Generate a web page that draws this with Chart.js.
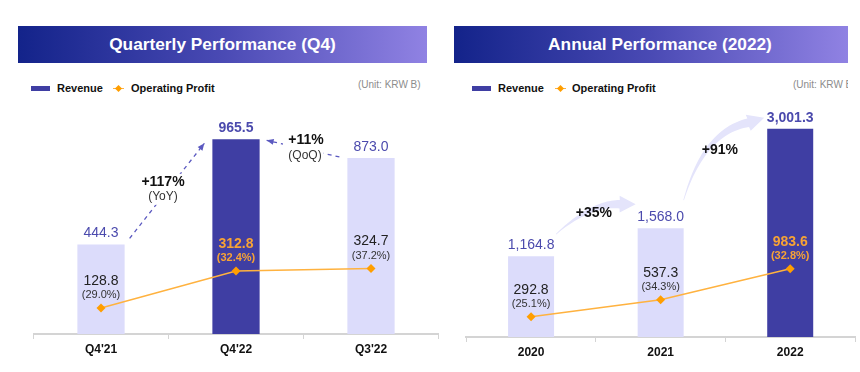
<!DOCTYPE html>
<html>
<head>
<meta charset="utf-8">
<script src="https://cdn.jsdelivr.net/npm/chart.js@4/dist/chart.umd.min.js"></script>
<style>
  body { margin: 0; width: 860px; height: 372px; position: relative; overflow: hidden; background: #fff;
         font-family: "Liberation Sans", Arial, sans-serif; }
  .title { position: absolute; top: 26px; height: 37px; color: #fff; font-weight: bold; font-size: 17.3px;
           display: flex; align-items: center; justify-content: center; box-sizing: border-box;
           background: linear-gradient(90deg, #13238a 0%, #4a4ab4 50%, #9082e3 100%); }
  .lg { position: absolute; top: 81px; height: 14px; line-height: 14px; font-size: 11px; font-weight: bold; color: #111; white-space: nowrap; }
  .sw { position: absolute; top: 86px; width: 19px; height: 5px; background: #3f3ea3; }
  .ln { position: absolute; top: 88px; width: 11px; height: 0; border-top: 1.5px solid #ffb23f; }
  .dm { position: absolute; top: 85.5px; width: 5px; height: 5px; background: #ff9e00; transform: rotate(45deg); }
  .unit { position: absolute; top: 79px; font-size: 10px; color: #8c8c8c; white-space: nowrap; overflow: hidden; }
  canvas { position: absolute; top: 100px; }
</style>
</head>
<body>
<div class="title" style="left:18px;width:409px;">Quarterly Performance (Q4)</div>
<div class="title" style="left:454px;width:394px;padding-left:18px;">Annual Performance (2022)</div>

<div class="sw" style="left:31px;"></div><div class="lg" style="left:57px;">Revenue</div>
<div class="ln" style="left:113px;"></div><div class="dm" style="left:116px;"></div>
<div class="lg" style="left:131px;">Operating Profit</div>
<div class="unit" style="left:358px;">(Unit: KRW B)</div>

<div class="sw" style="left:472px;"></div><div class="lg" style="left:498px;">Revenue</div>
<div class="ln" style="left:555px;"></div><div class="dm" style="left:558px;"></div>
<div class="lg" style="left:572px;">Operating Profit</div>
<div class="unit" style="left:793px;width:55px;">(Unit: KRW B)</div>

<canvas id="quarterChart" width="445" height="272" style="left:0px;"></canvas>
<canvas id="annualChart" width="414" height="272" style="left:446px;"></canvas>

<script>
// quarterly data
const qCategories = ["Q4'21", "Q4'22", "Q3'22"];
const qRevenue = [444.3, 965.5, 873.0];
const qProfit = [128.8, 312.8, 324.7];
const qMargin = ["29.0%", "32.4%", "37.2%"];
const qGrowth = [["+117%", "(YoY)"], ["+11%", "(QoQ)"]];

// annual data
const yCategories = ["2020", "2021", "2022"];
const yRevenue = [1164.8, 1568.0, 3001.3];
const yProfit = [292.8, 537.3, 983.6];
const yMargin = ["25.1%", "34.3%", "32.8%"];
const yGrowth = ["+35%", "+91%"];

const FONT = '"Liberation Sans", Arial, sans-serif';
const LIGHT = "#dcdcfb";
const DARK = "#3f3ea3";
const ORANGE = "#f7a335";

const fmt = (v) => v.toLocaleString("en-US", { minimumFractionDigits: 1, maximumFractionDigits: 1 });

// white box behind text, then text
function textBox(ctx, str, x, y, font, color) {
  ctx.font = font;
  const w = ctx.measureText(str).width;
  ctx.fillStyle = "#fff";
  ctx.fillRect(x - w / 2 - 2, y - 8, w + 4, 16);
  ctx.fillStyle = color;
  ctx.fillText(str, x, y);
}

function dashedArrow(ctx, x0, y0, x1, y1) {
  ctx.save();
  ctx.strokeStyle = "#5b59c0";
  ctx.fillStyle = "#5b59c0";
  ctx.lineWidth = 1.3;
  ctx.setLineDash([4, 4]);
  ctx.beginPath();
  ctx.moveTo(x0, y0);
  ctx.lineTo(x1, y1);
  ctx.stroke();
  const a = Math.atan2(y1 - y0, x1 - x0);
  ctx.setLineDash([]);
  ctx.beginPath();
  ctx.moveTo(x1, y1);
  ctx.lineTo(x1 - 7 * Math.cos(a) + 3 * Math.sin(a), y1 - 7 * Math.sin(a) - 3 * Math.cos(a));
  ctx.lineTo(x1 - 7 * Math.cos(a) - 3 * Math.sin(a), y1 - 7 * Math.sin(a) + 3 * Math.cos(a));
  ctx.closePath();
  ctx.fill();
  ctx.restore();
}

// tapered curved arrow: quadratic curve p0 -> p1 (control c), head to tip
function curvedArrow(ctx, p0, c, p1, tip, w) {
  const n = 30, left = [], right = [];
  for (let i = 0; i <= n; i++) {
    const t = i / n;
    const x = (1 - t) * (1 - t) * p0[0] + 2 * (1 - t) * t * c[0] + t * t * p1[0];
    const y = (1 - t) * (1 - t) * p0[1] + 2 * (1 - t) * t * c[1] + t * t * p1[1];
    const dx = 2 * (1 - t) * (c[0] - p0[0]) + 2 * t * (p1[0] - c[0]);
    const dy = 2 * (1 - t) * (c[1] - p0[1]) + 2 * t * (p1[1] - c[1]);
    const l = Math.hypot(dx, dy) || 1;
    const hw = 0.3 + (w / 2) * t;
    left.push([x - (dy / l) * hw, y + (dx / l) * hw]);
    right.push([x + (dy / l) * hw, y - (dx / l) * hw]);
  }
  const a = Math.atan2(tip[1] - p1[1], tip[0] - p1[0]);
  const hw = w * 1.05;
  ctx.save();
  ctx.fillStyle = "#e4e4fb";
  ctx.beginPath();
  ctx.moveTo(left[0][0], left[0][1]);
  left.forEach((p) => ctx.lineTo(p[0], p[1]));
  ctx.lineTo(p1[0] - Math.sin(a) * hw, p1[1] + Math.cos(a) * hw);
  ctx.lineTo(tip[0], tip[1]);
  ctx.lineTo(p1[0] + Math.sin(a) * hw, p1[1] - Math.cos(a) * hw);
  right.reverse().forEach((p) => ctx.lineTo(p[0], p[1]));
  ctx.closePath();
  ctx.fill();
  ctx.restore();
}

const labelPlugin = {
  id: "valueLabels",
  afterDatasetsDraw(chart, args, opts) {
    const ctx = chart.ctx;
    const bars = chart.getDatasetMeta(0).data;
    const pts = chart.getDatasetMeta(1).data;
    ctx.save();
    ctx.textAlign = "center";
    ctx.textBaseline = "middle";
    if (opts.extra) opts.extra(ctx, bars);
    bars.forEach((b, i) => {
      const hi = i === opts.hi;
      ctx.font = (hi ? "bold " : "") + "14px " + FONT;
      ctx.fillStyle = "#4b4aad";
      ctx.fillText(fmt(opts.revenue[i]), b.x, b.y - 11);
      const p = pts[i];
      ctx.fillStyle = hi ? ORANGE : "#222";
      ctx.fillText(fmt(opts.profit[i]), b.x, p.y - 27);
      ctx.font = (hi ? "bold " : "") + "11px " + FONT;
      ctx.fillStyle = hi ? ORANGE : "#333";
      ctx.fillText("(" + opts.margin[i] + ")", b.x, p.y - 13);
    });
    ctx.restore();
  },
};

function makeChart(id, cats, revenue, profit, margin, hi, yMax, pad, axisH, barPct, extra) {
  return new Chart(document.getElementById(id), {
    type: "bar",
    data: {
      labels: cats,
      datasets: [
        {
          type: "bar",
          label: "Revenue",
          data: revenue,
          backgroundColor: cats.map((c, i) => (i === hi ? DARK : LIGHT)),
          barPercentage: barPct,
          categoryPercentage: 1,
          order: 2,
        },
        {
          type: "line",
          label: "Operating Profit",
          data: profit,
          borderColor: "#ffb23f",
          borderWidth: 1.5,
          pointStyle: "rectRot",
          pointRadius: 4.5,
          pointBackgroundColor: "#ff9e00",
          pointBorderWidth: 0,
          tension: 0,
          order: 1,
        },
      ],
    },
    options: {
      responsive: false,
      animation: false,
      layout: { padding: pad },
      plugins: {
        legend: { display: false },
        tooltip: { enabled: false },
        valueLabels: { revenue, profit, margin, hi, extra },
      },
      scales: {
        x: {
          offset: true,
          afterFit: (scale) => { scale.height = axisH; },
          grid: { offset: true, drawOnChartArea: false, drawTicks: true, tickLength: 5, color: "#d4d4d4" },
          border: { color: "#d4d4d4", width: 2 },
          ticks: { color: "#111", padding: 3, font: { family: FONT, size: 12, weight: "bold" } },
        },
        y: { display: false, min: 0, max: yMax },
      },
    },
    plugins: [labelPlugin],
  });
}

// quarterly: YoY / QoQ dashed arrows
makeChart("quarterChart", qCategories, qRevenue, qProfit, qMargin, 1, 1138,
  { left: 33.5, right: 6.5, top: 0, bottom: 0 }, 38, 0.35,
  (ctx, bars) => {
    const [b0, b1, b2] = bars;
    const s0 = [b0.x + b0.width / 2 + 5, b0.y - 6], e0 = [b1.x - b1.width / 2 - 8, b1.y + 4];
    dashedArrow(ctx, s0[0], s0[1], e0[0], e0[1]);
    const m0 = [(s0[0] + e0[0]) / 2, (s0[1] + e0[1]) / 2];
    textBox(ctx, qGrowth[0][0], m0[0] - 4, m0[1] - 9, "bold 14px " + FONT, "#111");
    textBox(ctx, qGrowth[0][1], m0[0] - 4, m0[1] + 6, "12px " + FONT, "#333");

    const s1 = [b2.x - b2.width / 2 - 8, b2.y - 1], e1 = [b1.x + b1.width / 2 + 7, b1.y + 1];
    dashedArrow(ctx, s1[0], s1[1], e1[0], e1[1]);
    const m1 = [(s1[0] + e1[0]) / 2, (s1[1] + e1[1]) / 2];
    ctx.fillStyle = "#fff";
    ctx.fillRect(m1[0] - 20, m1[1] - 18, 40, 33);
    textBox(ctx, qGrowth[1][0], m1[0] + 3, m1[1] - 8, "bold 14px " + FONT, "#111");
    textBox(ctx, qGrowth[1][1], m1[0] + 2, m1[1] + 7, "12px " + FONT, "#333");
  });

// annual: curved growth arrows
makeChart("annualChart", yCategories, yRevenue, yProfit, yMargin, 2, 3350,
  { left: 20.3, right: 5, top: 0, bottom: 0 }, 35, 0.355,
  (ctx, bars) => {
    const [b0, b1, b2] = bars;
    const t0 = [b0.x + b0.width / 2 + 2, b0.y - 22];
    const h0 = [b1.x - b1.width / 2 - 2, b1.y - 24];
    curvedArrow(ctx, t0, [t0[0] + 34, h0[1] - 1], [h0[0] - 16, h0[1]], h0, 8);
    const t1 = [b1.x + b1.width / 2, b1.y - 28];
    const h1 = [b2.x - b2.width / 2 - 3, b2.y - 11];
    curvedArrow(ctx, t1, [t1[0] + 20, h1[1] + 14], [h1[0] - 16, h1[1] + 5], h1, 8);
    ctx.font = "bold 14px " + FONT;
    ctx.fillStyle = "#111";
    ctx.fillText(yGrowth[0], (t0[0] + h0[0]) / 2 - 2, (t0[1] + h0[1]) / 2 - 6);
    ctx.fillText(yGrowth[1], (t1[0] + h1[0]) / 2 - 4, (t1[1] + h1[1]) / 2 - 9);
  });
</script>
</body>
</html>
